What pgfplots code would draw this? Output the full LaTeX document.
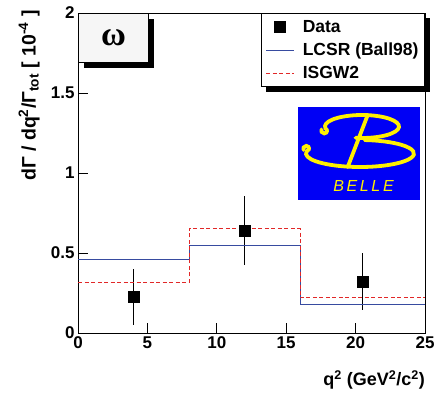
\documentclass[border=0pt]{standalone}
\usepackage{pgfplots}
\pgfplotsset{compat=1.18}
\usepackage{fontspec}
\setmainfont{Liberation Sans}
\newfontfamily\greekserif{Liberation Serif}
\usetikzlibrary{shadows,backgrounds}

\definecolor{lcsrblue}{RGB}{55,75,160}
\definecolor{isgwred}{RGB}{225,40,40}
\definecolor{bellebg}{RGB}{0,0,245}
\definecolor{belleyel}{RGB}{255,240,0}

\pgfplotsset{
  longline legend/.style={legend image code/.code={%
    \draw[##1] (0pt,0pt) -- (28pt,0pt); \path (34pt,0pt);}},
  marker legend/.style={legend image code/.code={%
    \draw[##1] plot coordinates {(14pt,0pt)}; \path (0pt,0pt) (34pt,0pt);}},
}

\begin{document}
\begin{tikzpicture}
\begin{axis}[
  at={(0pt,0pt)}, anchor=south west,
  scale only axis, width=347pt, height=320pt,
  xmin=0, xmax=25, ymin=0, ymax=2,
  xtick={0,5,10,15,20,25}, ytick={0,0.5,1,1.5,2},
  tick pos=left, tick align=inside, major tick length=10pt,
  axis line style={line width=1pt},
  every tick/.style={black, line width=1pt},
  /pgf/number format/assume math mode=true,
  tick label style={font=\fontsize{17}{17}\selectfont\bfseries},
  yticklabel style={/pgf/number format/fixed},
  xlabel={q\textsuperscript{2} (GeV\textsuperscript{2}/c\textsuperscript{2})},
  xlabel style={at={(axis description cs:1,-0.165)}, anchor=base east, inner sep=0pt,
    font=\fontsize{18}{18}\selectfont\bfseries},
  ylabel={dΓ / dq\textsuperscript{2}/Γ\textsubscript{tot} [ 10\textsuperscript{-4} ]},
  ylabel style={at={(axis description cs:-0.141,1.009)}, anchor=east, inner sep=0pt,
    font=\fontsize{19.5}{19.5}\selectfont\bfseries},
  legend style={name=leg, at={(1,1)}, anchor=north east, draw=black, line width=1pt,
    fill=white, font=\fontsize{17.5}{17.5}\selectfont\bfseries,
    inner xsep=4pt, inner ysep=5pt, row sep=5pt},
  legend cell align=left,
]
% measured points with asymmetric errors
\addplot[only marks, mark=square*, mark size=5.3pt, black, marker legend,
  error bars/.cd, y dir=both, y explicit,
  error bar style={line width=1.6pt}, error mark=none]
  coordinates {
    (4,0.227)    += (0,0.171) -= (0,0.177)
    (12,0.640)   += (0,0.216) -= (0,0.215)
    (20.5,0.320) += (0,0.178) -= (0,0.176)
  };
\addlegendentry{Data}
% LCSR prediction, binned
\addplot[const plot, lcsrblue, line width=0.9pt, no marks, longline legend]
  coordinates {(0,0.462) (8,0.545) (16,0.180) (25,0.180)};
\addlegendentry{LCSR (Ball98)}
% ISGW2 prediction, binned
\addplot[const plot, isgwred, line width=0.9pt, dash pattern=on 4pt off 2.5pt, no marks, longline legend]
  coordinates {(0,0.317) (8,0.652) (16,0.220) (25,0.220)};
\addlegendentry{ISGW2}
% meson tag
\node[draw=black, line width=1pt, fill=gray!7, minimum width=70pt, minimum height=49pt,
  anchor=north west, inner sep=0pt,
  drop shadow={shadow xshift=5pt, shadow yshift=-5pt, fill=black, opacity=1},
  font=\fontsize{34}{34}\selectfont\greekserif\bfseries]
  at (rel axis cs:0,1) {ω};
\end{axis}
% shadow behind the legend box
\begin{scope}[on background layer]
  \fill[black] ([shift={(5pt,-5pt)}]leg.south west) rectangle ([shift={(5pt,-5pt)}]leg.north east);
\end{scope}
% Belle logo
\fill[bellebg] (220pt,133pt) rectangle (342pt,226pt);
\begin{scope}[belleyel, line width=3.8pt, line cap=round]
  % upper bowl with its hook
  \draw ([shift={(200:37pt and 11.5pt)}]284pt,206.5pt)
     arc[start angle=200, end angle=-100, x radius=37pt, y radius=11.5pt];
  \draw ([shift={(200:37pt and 11.5pt)}]284pt,206.5pt) arc[start angle=0, end angle=-200, radius=3pt];
  % lower bowl with its hook
  \draw ([shift={(160:54pt and 13.5pt)}]282pt,179.5pt)
     arc[start angle=160, end angle=445, x radius=54pt, y radius=13.5pt];
  \draw ([shift={(160:54pt and 13.5pt)}]282pt,179.5pt) arc[start angle=0, end angle=200, radius=3pt];
  % slanted stem
  \draw (289.7pt,218pt) -- (269.7pt,166pt);
\end{scope}
\node[belleyel, font=\fontsize{16}{16}\selectfont\itshape] at (285.5pt,147pt) {B\,E\,L\,L\,E};
% page frame
\pgfresetboundingbox
\path (-78pt,-59pt) rectangle (357pt,333pt);
\end{tikzpicture}
\end{document}
